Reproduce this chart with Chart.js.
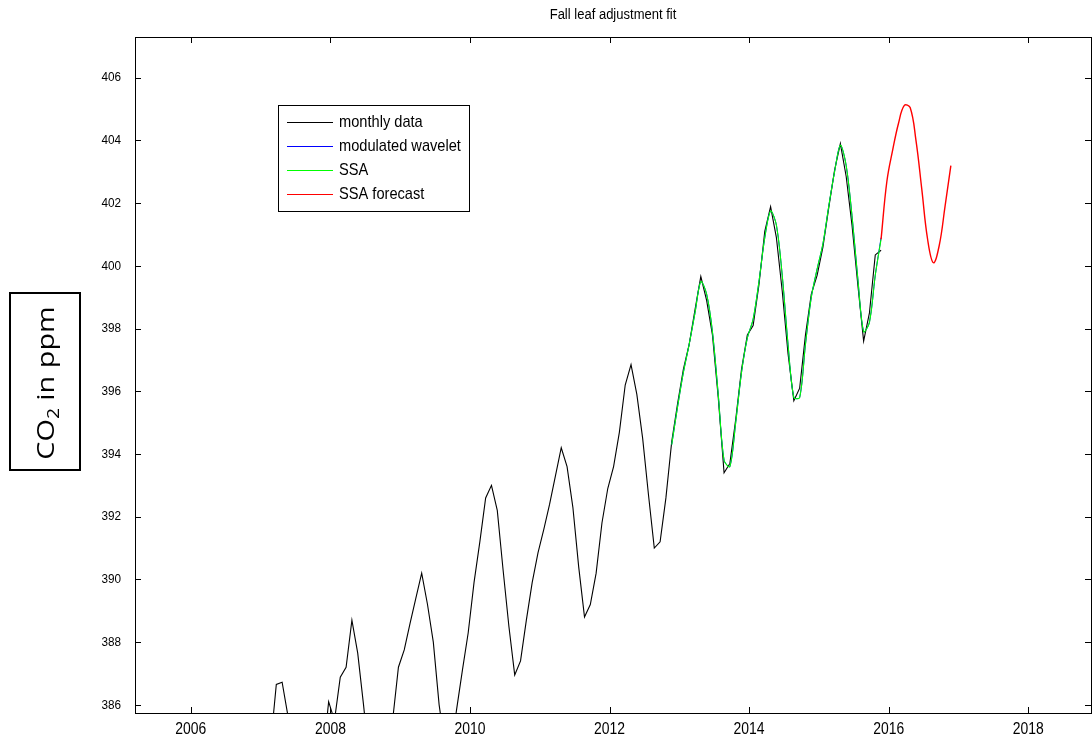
<!DOCTYPE html>
<html>
<head>
<meta charset="utf-8">
<script src="https://cdn.jsdelivr.net/npm/chart.js@4.4.1/dist/chart.umd.min.js"></script>
<style>
  html, body { margin: 0; padding: 0; background: #fff; }
  #wrap { width: 1092px; height: 742px; position: relative; }
</style>
</head>
<body>
<div id="wrap"><canvas id="c" width="1092" height="742"></canvas></div>
<script>
// ---------------- data ----------------
const title = 'Fall leaf adjustment fit';
const yAxisLabel = ['CO', '2', ' in ppm'];
const seriesNames = ['monthly data', 'modulated wavelet', 'SSA', 'SSA forecast'];
const xTicks = [2006, 2008, 2010, 2012, 2014, 2016, 2018];
const yTicks = [386, 388, 390, 392, 394, 396, 398, 400, 402, 404, 406];

// monthly data, Jan 2007 .. Dec 2015
const monthlyStart = [2007, 1];
const monthlyData = [
  382.9, 383.8, 384.7, 386.65, 386.72, 385.65, 384.2, 382.0, 380.9, 381.1, 382.5, 384.3,
  386.1, 385.5, 386.88, 387.2, 388.7, 387.65, 386.0, 384.2, 383.0, 382.9, 384.1, 385.5,
  387.2, 387.75, 388.6, 389.4, 390.2, 389.2, 388.0, 386.0, 384.7, 384.5, 385.85, 387.1,
  388.3, 389.9, 391.2, 392.6, 393.0, 392.2, 390.3, 388.5, 386.95, 387.4, 388.7, 389.9,
  390.85, 391.6, 392.4, 393.3, 394.2, 393.6, 392.3, 390.4, 388.8, 389.2, 390.2, 391.8,
  392.9, 393.6, 394.7, 396.2, 396.85, 395.9, 394.5, 392.7, 391.0, 391.2, 392.6, 394.4,
  395.6, 396.7, 397.5, 398.6, 399.66, 398.9, 397.8, 395.8, 393.4, 393.7, 395.1, 396.7,
  397.8, 398.1, 399.4, 401.1, 401.89, 400.9, 399.2, 397.2, 395.7, 396.1, 397.8, 399.1,
  399.7, 400.6, 401.85, 403.05, 403.9, 402.85, 401.3, 399.4, 397.6, 398.5, 400.35, 400.5
];

// modulated wavelet, Dec 2012 .. Dec 2015 (mostly hidden under SSA)
const waveletStart = [2012, 12];
const waveletData = [
  394.3,
  395.5, 396.6, 397.5, 398.5, 399.5, 399.1, 397.9, 395.9, 393.8, 393.6, 395.0, 396.6,
  397.7, 398.3, 399.5, 400.9, 401.75, 401.3, 399.7, 397.5, 395.8, 395.8, 397.5, 399.0,
  399.9, 400.7, 401.9, 403.0, 403.85, 403.2, 401.6, 399.6, 397.9, 398.2, 399.7, 400.9
];

// SSA, Dec 2012 .. Dec 2015
const ssaStart = [2012, 12];
const ssaData = [
  394.3,
  395.5, 396.6, 397.5, 398.5, 399.5, 399.1, 397.9, 395.9, 393.8, 393.6, 395.0, 396.6,
  397.7, 398.3, 399.5, 400.9, 401.75, 401.3, 399.7, 397.5, 395.8, 395.8, 397.5, 399.0,
  399.9, 400.7, 401.9, 403.0, 403.85, 403.2, 401.6, 399.6, 397.9, 398.2, 399.7, 400.85
];

// SSA forecast, Dec 2015 .. Dec 2016
const forecastStart = [2015, 12];
const forecastData = [
  400.85, 402.7, 403.7, 404.55, 405.12, 405.05, 404.0, 402.45, 400.85, 400.1, 400.65, 401.9, 403.2
];

// ---------------- helpers ----------------
const MONTH_OFFSET = -0.025; // where a month sits inside its year on the time axis
function toXY(start, values) {
  return values.map((v, i) => {
    const mIdx = (start[1] - 1) + i;
    return { x: start[0] + mIdx / 12 + MONTH_OFFSET, y: v };
  });
}

const FONT = '"Liberation Sans", Arial, sans-serif';

function drawText(ctx, text, x, y, size, align, sx) {
  ctx.save();
  ctx.font = size + 'px ' + FONT;
  ctx.translate(x, y);
  ctx.scale(sx, 1);
  ctx.textAlign = align;
  ctx.textBaseline = 'middle';
  ctx.fillStyle = '#000';
  ctx.fillText(text, 0, 0);
  ctx.restore();
}

const frame = {
  id: 'frame',
  afterDraw(chart) {
    const { ctx, chartArea: a, scales } = chart;
    ctx.save();
    // box
    ctx.strokeStyle = '#000';
    ctx.lineWidth = 1;
    ctx.strokeRect(Math.round(a.left) + 0.5, Math.round(a.top) + 0.5,
                   Math.round(a.right - a.left), Math.round(a.bottom - a.top));
    // inward ticks + labels
    const tl = 6;
    ctx.beginPath();
    xTicks.forEach(t => {
      const px = Math.round(scales.x.getPixelForValue(t)) + 0.5;
      ctx.moveTo(px, a.bottom); ctx.lineTo(px, a.bottom - tl);
      ctx.moveTo(px, a.top); ctx.lineTo(px, a.top + tl);
    });
    yTicks.forEach(t => {
      const py = Math.round(scales.y.getPixelForValue(t)) + 0.5;
      ctx.moveTo(a.left, py); ctx.lineTo(a.left + tl, py);
      ctx.moveTo(a.right, py); ctx.lineTo(a.right - tl, py);
    });
    ctx.stroke();
    xTicks.forEach(t => drawText(ctx, String(t), scales.x.getPixelForValue(t), a.bottom + 17, 16, 'center', 0.87));
    yTicks.forEach(t => drawText(ctx, String(t), a.left - 14, scales.y.getPixelForValue(t), 13.5, 'right', 0.87));

    // title
    drawText(ctx, title, (a.left + a.right) / 2, 15, 14, 'center', 0.93);

    // legend
    const lx = 278, ly = 105, lw = 191, lh = 106;
    ctx.fillStyle = '#fff';
    ctx.fillRect(lx, ly, lw, lh);
    ctx.strokeStyle = '#000';
    ctx.lineWidth = 1;
    ctx.strokeRect(lx + 0.5, ly + 0.5, lw, lh);
    const colors = ['#000000', '#0000ff', '#00ff00', '#ff0000'];
    const rows = [122, 146, 170, 194];
    seriesNames.forEach((n, i) => {
      ctx.strokeStyle = colors[i];
      ctx.lineWidth = 1.2;
      ctx.beginPath();
      ctx.moveTo(287, rows[i] + 0.5); ctx.lineTo(333, rows[i] + 0.5);
      ctx.stroke();
      drawText(ctx, n, 339, rows[i], 17, 'left', 0.86);
    });

    // y-axis label in a box
    ctx.strokeStyle = '#000';
    ctx.lineWidth = 2;
    ctx.strokeRect(10, 293, 70, 177);
    ctx.translate(47, 383);
    ctx.rotate(-Math.PI / 2);
    ctx.scale(1.2, 1);
    const big = '24px "Open Sans", "Noto Sans", sans-serif';
    const small = '16px "Open Sans", "Noto Sans", sans-serif';
    ctx.font = big; const w0 = ctx.measureText(yAxisLabel[0]).width;
    ctx.font = small; const w1 = ctx.measureText(yAxisLabel[1]).width;
    ctx.font = big; const w2 = ctx.measureText(yAxisLabel[2]).width;
    let sx = -(w0 + w1 + w2) / 2;
    ctx.fillStyle = '#000';
    ctx.textAlign = 'left';
    ctx.textBaseline = 'middle';
    ctx.font = big; ctx.fillText(yAxisLabel[0], sx, 0); sx += w0;
    ctx.font = small; ctx.fillText(yAxisLabel[1], sx, 7); sx += w1;
    ctx.font = big; ctx.fillText(yAxisLabel[2], sx, 0);
    ctx.restore();
  }
};

const lineDs = (label, data, color, width, tension, order) => ({
  label, data, borderColor: color, backgroundColor: color, order,
  borderWidth: width, pointRadius: 0, fill: false, tension: tension || 0
});

new Chart(document.getElementById('c'), {
  type: 'line',
  data: {
    datasets: [
      lineDs(seriesNames[0], toXY(monthlyStart, monthlyData), '#000000', 1.1, 0, 4),
      lineDs(seriesNames[1], toXY(waveletStart, waveletData), '#0000ff', 1, 0.3, 3),
      lineDs(seriesNames[2], toXY(ssaStart, ssaData), '#00ff00', 1.1, 0.3, 2),
      lineDs(seriesNames[3], toXY(forecastStart, forecastData), '#ff0000', 1.4, 0.4, 1)
    ]
  },
  options: {
    responsive: false,
    animation: false,
    events: [],
    layout: { padding: { left: 0, right: 1, top: 37, bottom: 0 } },
    plugins: { legend: { display: false }, tooltip: { enabled: false }, title: { display: false } },
    scales: {
      x: {
        type: 'linear', min: 2005.2, max: 2018.9,
        afterBuildTicks: s => { s.ticks = xTicks.map(v => ({ value: v })); },
        afterFit: s => { s.height = 29; },
        grid: { display: false, drawTicks: false },
        border: { display: false },
        ticks: { display: false }
      },
      y: {
        type: 'linear', min: 385.74, max: 407.3,
        afterBuildTicks: s => { s.ticks = yTicks.map(v => ({ value: v })); },
        afterFit: s => { s.width = 135; },
        grid: { display: false, drawTicks: false },
        border: { display: false },
        ticks: { display: false }
      }
    }
  },
  plugins: [frame]
});
</script>
</body>
</html>
